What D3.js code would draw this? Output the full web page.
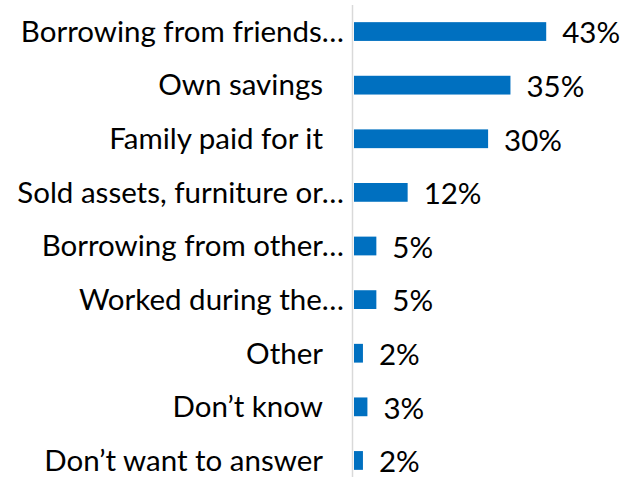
<!DOCTYPE html>
<html><head><meta charset="utf-8">
<script src="https://cdn.jsdelivr.net/npm/d3@7"></script>
<style>html,body{margin:0;padding:0;background:#fff;}svg{display:block;}</style>
</head><body>
<svg id="c" width="621" height="477"></svg>
<script>
const categories = ["Borrowing from friends…","Own savings","Family paid for it","Sold assets, furniture or…","Borrowing from other…","Worked during the…","Other","Don’t know","Don’t want to answer"];
const values = [43,35,30,12,5,5,2,3,2];
const valueLabels = ["43%","35%","30%","12%","5%","5%","2%","3%","2%"];

const svg = d3.select("#c");
const W = 621, H = 477;
const font = "Lato, 'Open Sans', sans-serif";
const fs = 29.5;

const x = d3.scaleLinear().domain([0, 50]).range([354, 354 + 4.47*50]);
const y = d3.scaleBand().domain(categories).range([5, 487]).paddingInner(0.65).paddingOuter(0.32);

svg.append("line").attr("x1",352.5).attr("x2",352.5).attr("y1",5).attr("y2",H)
  .attr("stroke","#d9d9d9").attr("stroke-width",1.5);

svg.selectAll("rect.bar").data(values).join("rect").attr("class","bar")
  .attr("x", x(0)).attr("y",(d,i)=>y(categories[i]))
  .attr("width", d=>x(d)-x(0)).attr("height", y.bandwidth())
  .attr("fill","#0070C0");

svg.selectAll("text.cat").data(categories).join("text").attr("class","cat")
  .attr("x", d=> d.endsWith("…") ? 344 : 323)
  .attr("y", d=>y(d)+y.bandwidth()/2).attr("dy","0.35em")
  .attr("text-anchor","end").attr("font-family",font).attr("font-size",fs).attr("fill","#000")
  .text(d=>d);

svg.selectAll("text.val").data(values).join("text").attr("class","val")
  .attr("x", d=>x(d)+16)
  .attr("y",(d,i)=>y(categories[i])+y.bandwidth()/2+1.5).attr("dy","0.35em")
  .attr("font-family",font).attr("font-size",fs).attr("fill","#000")
  .text((d,i)=>valueLabels[i]);
</script>
</body></html>
